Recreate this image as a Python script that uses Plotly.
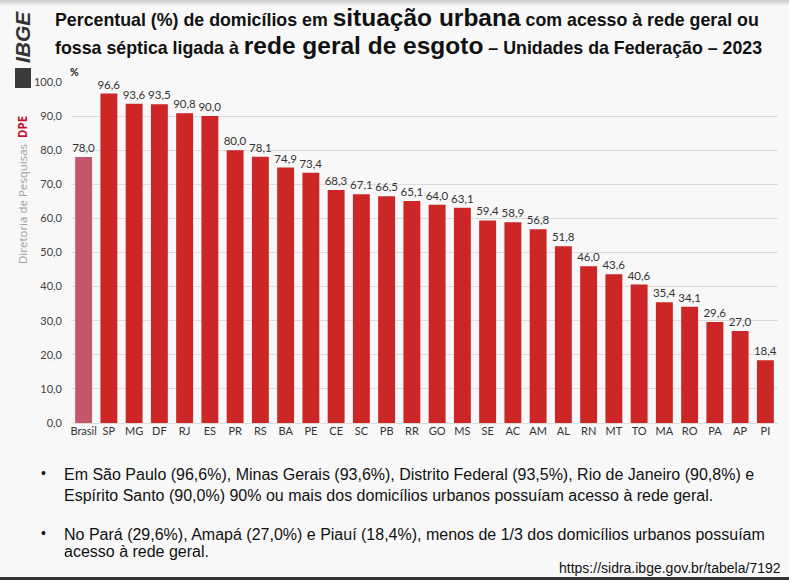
import plotly.graph_objects as go

categories = ["Brasil", "SP", "MG", "DF", "RJ", "ES", "PR", "RS", "BA", "PE", "CE", "SC", "PB", "RR",
              "GO", "MS", "SE", "AC", "AM", "AL", "RN", "MT", "TO", "MA", "RO", "PA", "AP", "PI"]
values = [78.0, 96.6, 93.6, 93.5, 90.8, 90.0, 80.0, 78.1, 74.9, 73.4, 68.3, 67.1, 66.5, 65.1,
          64.0, 63.1, 59.4, 58.9, 56.8, 51.8, 46.0, 43.6, 40.6, 35.4, 34.1, 29.6, 27.0, 18.4]
tick_vals = [0, 10, 20, 30, 40, 50, 60, 70, 80, 90, 100]
highlight = "AM"

W, H = 789, 580
ML, MR, MT, MB = 71, 11, 82, 157
PW, PH = W - ML - MR, H - MT - MB

bar_colors = ["#c4566b" if c == "Brasil" else "#cc2626" for c in categories]
labels = [f"{v:.1f}".replace(".", ",") for v in values]

fig = go.Figure(go.Bar(
    x=categories, y=values, marker=dict(color=bar_colors, line=dict(width=0)),
    text=labels, textposition="outside", cliponaxis=False, constraintext="none",
    textfont=dict(family="Lato, Open Sans, sans-serif", size=11.5, color="#333333"),
    hoverinfo="x+y",
))

TITLE_FONT = "Liberation Sans Narrow, Arial Narrow, Liberation Sans, Arial, sans-serif"
BODY_FONT = "Liberation Sans Narrow, Arial Narrow, Liberation Sans, Arial, sans-serif"

fig.update_layout(
    width=W, height=H,
    margin=dict(l=ML, r=MR, t=MT, b=MB),
    paper_bgcolor="#f8f8f8", plot_bgcolor="#f8f8f8",
    showlegend=False, bargap=0.33,
    separators=",.",
    xaxis=dict(type="category", showgrid=False, showline=False, ticks="",
               tickfont=dict(family="Lato, Open Sans, sans-serif", size=11, color="#333333")),
    yaxis=dict(range=[0, 100], tickvals=tick_vals, tickformat=".1f",
               showgrid=True, gridcolor="#dcdcdc", gridwidth=1,
               zeroline=True, zerolinecolor="#dcdcdc", zerolinewidth=1,
               showline=False, ticks="", ticklabelstandoff=8,
               tickfont=dict(family="Lato, Open Sans, sans-serif", size=11, color="#404040")),
)


def px(x, y):
    return (x - ML) / PW, (H - MB - y) / PH


big = "font-size:24.5px"
line1 = (f"<b>Percentual (%) de domicílios em <span style='{big}'>situação urbana</span> "
         f"com acesso à rede geral ou</b>")
line2 = (f"<b>fossa séptica ligada à <span style='{big}'>rede geral de esgoto</span> "
         f"– Unidades da Federação – 2023</b>")

ann = []
for yy, t in [(18, line1), (45, line2)]:
    x, y = px(53, yy)
    ann.append(dict(text=t, x=x, y=y, xref="paper", yref="paper", showarrow=False,
                    xanchor="left", yanchor="middle",
                    font=dict(family=TITLE_FONT, size=17.8, color="#111111")))

# % unit label
x, y = px(68, 72)
ann.append(dict(text="<b>%</b>", x=x, y=y, xref="paper", yref="paper", showarrow=False,
                xanchor="left", yanchor="middle",
                font=dict(family="Lato, sans-serif", size=10.5, color="#222222")))

# IBGE vertical logo text
x, y = px(23, 37)
ann.append(dict(text="<b><i>IBGE</i></b>", x=x, y=y, xref="paper", yref="paper", showarrow=False,
                textangle=-90, xanchor="center", yanchor="middle",
                font=dict(family="Liberation Sans, Arial, sans-serif", size=21, color="#333333")))

# Diretoria de Pesquisas DPE vertical
x, y = px(22, 190)
ann.append(dict(text="Diretoria de Pesquisas  <b><span style='color:#c8102e'>DPE</span></b>",
                x=x, y=y, xref="paper", yref="paper", showarrow=False,
                textangle=-90, xanchor="center", yanchor="middle",
                font=dict(family="Open Sans, sans-serif", size=11.5, color="#a0a0a0")))

# bullets
for yy in (473, 533):
    x, y = px(43, yy)
    ann.append(dict(text="•", x=x, y=y, xref="paper", yref="paper", showarrow=False,
                    xanchor="center", yanchor="middle",
                    font=dict(family=BODY_FONT, size=14, color="#111111")))

text_lines = [
    (474, "Em São Paulo (96,6%), Minas Gerais (93,6%), Distrito Federal (93,5%), Rio de Janeiro (90,8%) e"),
    (495, "Espírito Santo (90,0%) 90% ou mais dos domicílios urbanos possuíam acesso à rede geral."),
    (534, "No Pará (29,6%), Amapá (27,0%) e Piauí (18,4%), menos de 1/3 dos domicílios urbanos possuíam"),
    (551, "acesso à rede geral."),
]
for yy, t in text_lines:
    x, y = px(62, yy)
    ann.append(dict(text=t, x=x, y=y, xref="paper", yref="paper", showarrow=False,
                    xanchor="left", yanchor="middle",
                    font=dict(family=BODY_FONT, size=16, color="#111111")))

x, y = px(783, 568)
ann.append(dict(text="https://sidra.ibge.gov.br/tabela/7192", x=x, y=y, xref="paper", yref="paper",
                showarrow=False, xanchor="right", yanchor="middle",
                font=dict(family=BODY_FONT, size=14, color="#111111")))

fig.update_layout(annotations=ann)


def rect(x0, y0, x1, y1, **kw):
    a0, b0 = px(x0, y0)
    a1, b1 = px(x1, y1)
    d = dict(type="rect", xref="paper", yref="paper", x0=a0, x1=a1, y0=b1, y1=b0, line=dict(width=0))
    d.update(kw)
    return d


hi = categories.index(highlight)
shapes = [
    dict(type="circle", xref="x", yref="y", x0=hi - 0.6, x1=hi + 0.6, y0=-0.9, y1=-7.1,
         line=dict(color="#c8102e", width=2)),
    rect(0, 577, W, 580, fillcolor="#333333"),
    rect(15, 68, 31, 88, fillcolor="#3a3a3a"),
]
for i, op in enumerate([0.18, 0.12, 0.07, 0.03]):
    shapes.append(rect(0, i * 1.5, W, (i + 1) * 1.5, fillcolor="#000000", opacity=op))
fig.update_layout(shapes=shapes)

fig.write_html("out.html", config={"displayModeBar": False},
               post_script="document.body.style.margin='0px';")
